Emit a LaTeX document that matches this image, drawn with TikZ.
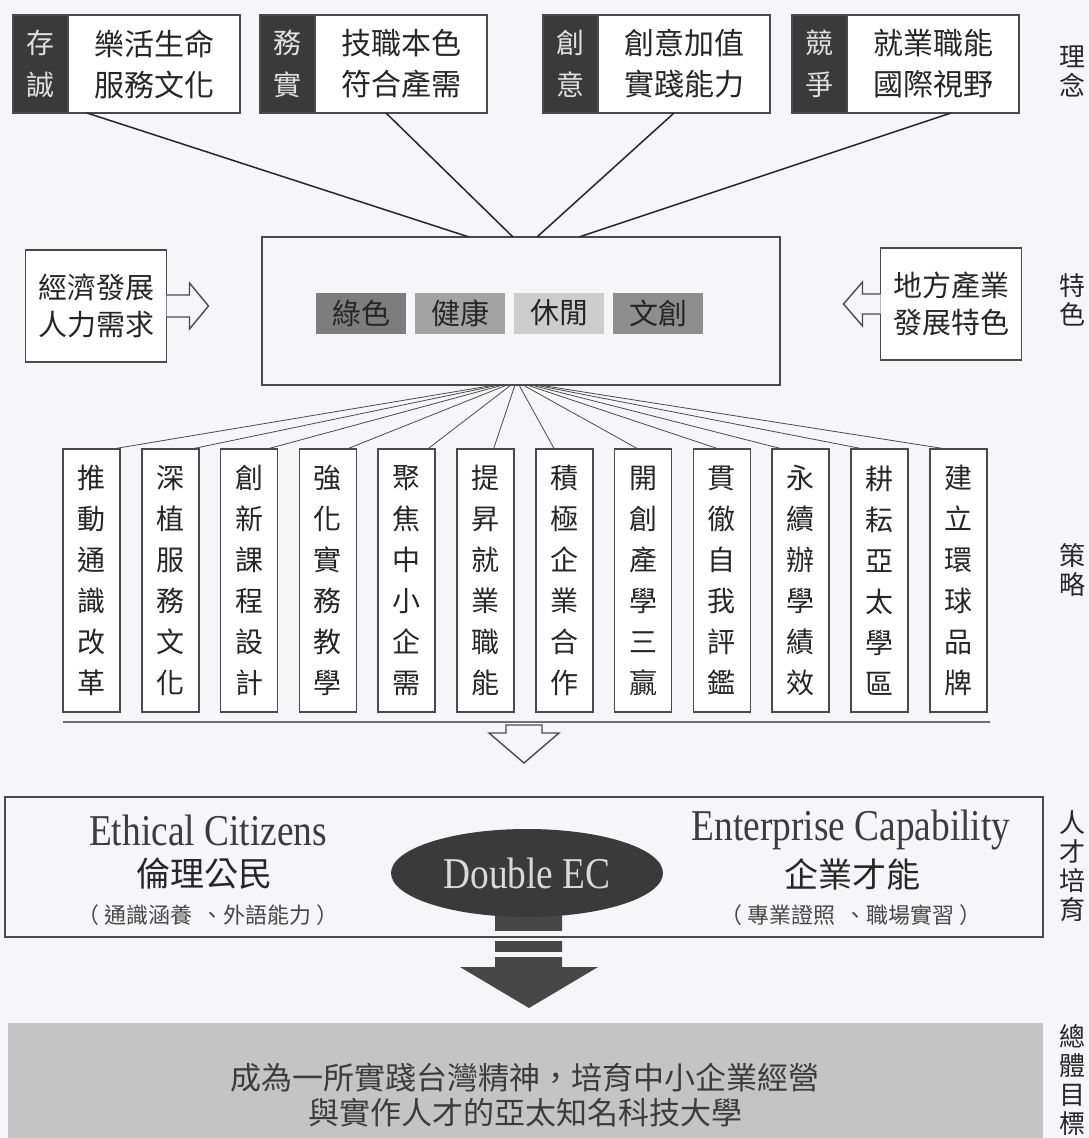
\documentclass[tikz,border=0pt]{standalone}
\usepackage{fontspec}
\setmainfont{Noto Sans CJK TC}
\newfontfamily\enfont[FakeStretch=0.85]{Liberation Serif}
\usetikzlibrary{positioning,shapes.geometric}

\definecolor{paper}{HTML}{F6F6F8}
\definecolor{ink}{HTML}{262626}
\definecolor{boxline}{HTML}{4A4A4A}
\definecolor{darkcol}{HTML}{3A3A3A}
\definecolor{stemcol}{HTML}{474747}
\definecolor{tagA}{HTML}{7D7D7D}
\definecolor{tagB}{HTML}{A3A3A3}
\definecolor{tagC}{HTML}{CDCDCD}
\definecolor{tagD}{HTML}{8E8E8E}
\definecolor{goalgray}{HTML}{C4C4C4}

\begin{document}
\begin{tikzpicture}[x=1pt,y=-1pt,
  box/.style={draw=boxline,line width=1.6pt,inner sep=0pt,outer sep=0pt,align=center,text=ink},
  dark/.style={fill=darkcol,draw=boxline,line width=1.6pt,inner sep=0pt,outer sep=0pt,minimum width=55pt,minimum height=98pt,align=center,text=white!88!black,font=\fontsize{28}{42}\selectfont},
  idea/.style={box,fill=white,minimum width=172pt,minimum height=98pt,font=\fontsize{30}{41}\selectfont},
  tag/.style={inner sep=0pt,outer sep=0pt,minimum width=90pt,minimum height=41pt,text=ink,font=\fontsize{29}{34}\selectfont},
  side/.style={box,fill=white,minimum width=141pt,minimum height=112pt,font=\fontsize{29}{37}\selectfont},
  strat/.style={box,fill=white,minimum width=57pt,minimum height=263pt,font=\fontsize{28}{41}\selectfont},
  lbl/.style={inner sep=0pt,align=center,text=ink,font=\fontsize{26}{29}\selectfont},
  entext/.style={inner sep=0pt,text=ink!90,font=\enfont\fontsize{44}{44}\selectfont},
  zhtext/.style={inner sep=0pt,text=ink,font=\fontsize{34}{34}\selectfont},
  note/.style={inner sep=0pt,text=ink!85,font=\fontsize{22}{22}\selectfont},
  hollow/.style={draw=boxline,line width=1.4pt,fill=paper,line join=miter},
  spoke/.style={draw=ink,line width=1.5pt},
  fan/.style={draw=boxline,line width=0.8pt},
  groundline/.style={draw=boxline!80,line width=2.4pt}]

  \fill[paper] (0,0) rectangle (1089,1138);
  \useasboundingbox (0,0) rectangle (1089,1138);

  % philosophy row
  \node[dark] (d1) at (40.5,64) {存\\誠};
  \node[idea] (t1) [right=0pt of d1] {樂活生命\\服務文化};
  \node[dark] (d2) at (287.5,64) {務\\實};
  \node[idea] (t2) [right=0pt of d2] {技職本色\\符合產需};
  \node[dark] (d3) at (570.5,64) {創\\意};
  \node[idea] (t3) [right=0pt of d3] {創意加值\\實踐能力};
  \node[dark] (d4) at (819.5,64) {競\\爭};
  \node[idea] (t4) [right=0pt of d4] {就業職能\\國際視野};

  % features
  \node[box,minimum width=518pt,minimum height=148pt] (mid) at (521,311) {};
  \node[tag,fill=tagA] (g1) at (361,313) {綠色};
  \node[tag,fill=tagB] (g2) [right=9pt of g1] {健康};
  \node[tag,fill=tagC] (g3) [right=9pt of g2] {休閒};
  \node[tag,fill=tagD] (g4) [right=9pt of g3] {文創};

  \node[side] (l) at (96,306) {經濟發展\\人力需求};
  \node[side] (r) at (951,304) {地方產業\\發展特色};

  \draw[spoke] ([xshift=-67pt]t1.south) -- ([xshift=-52pt]mid.north);
  \draw[spoke] ([xshift=-15pt]t2.south) -- ([xshift=-8pt]mid.north);
  \draw[spoke] ([xshift=-10pt]t3.south) -- ([xshift=16pt]mid.north);
  \draw[spoke] ([xshift=18pt]t4.south) -- ([xshift=58pt]mid.north);

  \draw[hollow] (l.east) ++(0,-11) -- ++(23,0) -- ++(0,-12) -- ++(19,23) -- ++(-19,23) -- ++(0,-12) -- ++(-23,0);
  \draw[hollow] (r.west) ++(0,-10) -- ++(-18,0) -- ++(0,-12) -- ++(-19,22) -- ++(19,22) -- ++(0,-12) -- ++(18,0);

  % strategies
  \node[strat] (s1) at (91.5,580.5) {推\\動\\通\\識\\改\\革};
  \node[strat] (s2) [right=21.8pt of s1] {深\\植\\服\\務\\文\\化};
  \node[strat] (s3) [right=21.8pt of s2] {創\\新\\課\\程\\設\\計};
  \node[strat] (s4) [right=21.8pt of s3] {強\\化\\實\\務\\教\\學};
  \node[strat] (s5) [right=21.8pt of s4] {聚\\焦\\中\\小\\企\\需};
  \node[strat] (s6) [right=21.8pt of s5] {提\\昇\\就\\業\\職\\能};
  \node[strat] (s7) [right=21.8pt of s6] {積\\極\\企\\業\\合\\作};
  \node[strat] (s8) [right=21.8pt of s7] {開\\創\\產\\學\\三\\贏};
  \node[strat] (s9) [right=21.8pt of s8] {貫\\徹\\自\\我\\評\\鑑};
  \node[strat] (s10) [right=21.8pt of s9] {永\\續\\辦\\學\\績\\效};
  \node[strat] (s11) [right=21.8pt of s10] {耕\\耘\\亞\\太\\學\\區};
  \node[strat] (s12) [right=21.8pt of s11] {建\\立\\環\\球\\品\\牌};

  \draw[fan] ([xshift=-26pt]mid.south) -- ([xshift=21pt]s1.north);
  \draw[fan] ([xshift=-22pt]mid.south) -- ([xshift=21pt]s2.north);
  \draw[fan] ([xshift=-18pt]mid.south) -- ([xshift=18pt]s3.north);
  \draw[fan] ([xshift=-14pt]mid.south) -- ([xshift=19pt]s4.north);
  \draw[fan] ([xshift=-10pt]mid.south) -- ([xshift=21pt]s5.north);
  \draw[fan] ([xshift=-6pt]mid.south) -- ([xshift=8pt]s6.north);
  \draw[fan] ([xshift=-2pt]mid.south) -- ([xshift=-10pt]s7.north);
  \draw[fan] ([xshift=2pt]mid.south) -- ([xshift=-5pt]s8.north);
  \draw[fan] ([xshift=6pt]mid.south) -- ([xshift=-3pt]s9.north);
  \draw[fan] ([xshift=10pt]mid.south) -- ([xshift=-18pt]s10.north);
  \draw[fan] ([xshift=14pt]mid.south) -- ([xshift=-16pt]s11.north);
  \draw[fan] ([xshift=18pt]mid.south) -- ([xshift=-12pt]s12.north);

  \draw[groundline] ([yshift=-10pt]s1.south west) -- ([xshift=3pt,yshift=-10pt]s12.south east);
  \coordinate (dn) at (524,725);
  \draw[hollow] (dn) ++(-18,0) -- ++(36,0) -- ++(0,8) -- ++(17,0) -- ++(-35,30) -- ++(-35,-30) -- ++(17,0) -- cycle;

  % talent
  \coordinate (ecpos) at (527,873);
  \fill[stemcol] (ecpos) ++(-32,0) -- ++(0,94) -- ++(-35,0) -- ++(69,41) -- ++(69,-41) -- ++(-36,0) -- ++(0,-94) -- cycle;
  \fill[paper] (488,931) rectangle (570,941);
  \fill[paper] (488,952) rectangle (570,957);
  \node[box,minimum width=1038pt,minimum height=140pt] (tal) at (524,867) {};
  \node[ellipse,fill=darkcol,minimum width=272pt,minimum height=88pt,inner sep=0pt,text=white!85!black,font=\enfont\fontsize{44}{44}\selectfont] (ec) at (ecpos) {Double EC};

  \node[entext] (e1) at (208,830) {Ethical Citizens};
  \node[zhtext] (z1) at (204,874) {倫理公民};
  \node[note] (n1) at (208,915) {（ 通識涵養 \ 、外語能力 ）};
  \node[entext] (e2) at (851,830) {Enterprise Capability};
  \node[zhtext] (z2) at (852,874) {企業才能};
  \node[note] (n2) at (851,915) {（ 專業證照 \ 、職場實習 ）};

  % goal
  \node[fill=goalgray,minimum width=1035pt,minimum height=115pt,inner sep=0pt] (goal) at (525.5,1080.5) {};
  \node[inner sep=0pt,align=center,text=ink!90,font=\fontsize{31}{35}\selectfont] (gtxt) at (525,1095) {成為一所實踐台灣精神，培育中小企業經營\\與實作人才的亞太知名科技大學};

  % side labels
  \node[lbl] (k1) at (1072,71) {理\\念};
  \node[lbl] (k2) at (1072,300) {特\\色};
  \node[lbl] (k3) at (1072,570) {策\\略};
  \node[lbl] (k4) at (1072,866) {人\\才\\培\\育};
  \node[lbl] (k5) at (1072,1080) {總\\體\\目\\標};
\end{tikzpicture}
\end{document}
